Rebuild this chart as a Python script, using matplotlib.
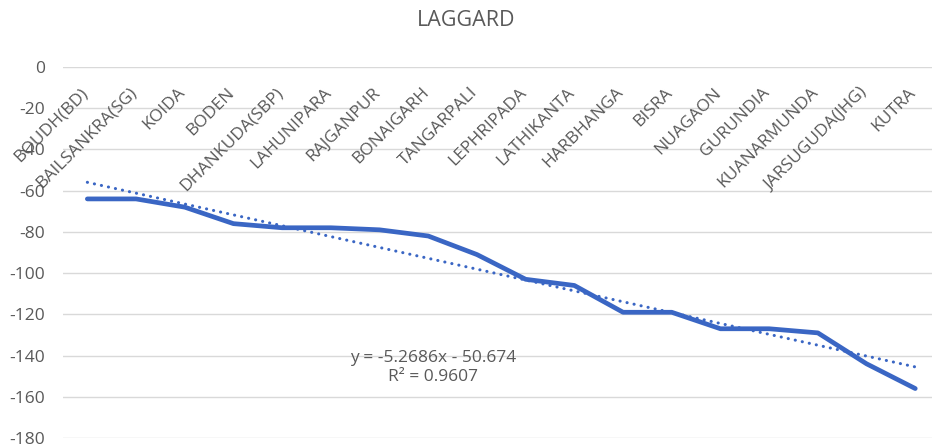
import matplotlib
matplotlib.use("Agg")
import matplotlib.pyplot as plt
import numpy as np

plt.rcParams['font.family'] = ['Open Sans', 'DejaVu Sans']

categories = ["BOUDH(BD)", "BAILSANKRA(SG)", "KOIDA", "BODEN", "DHANKUDA(SBP)",
              "LAHUNIPARA", "RAJGANPUR", "BONAIGARH", "TANGARPALI", "LEPHRIPADA",
              "LATHIKANTA", "HARBHANGA", "BISRA", "NUAGAON", "GURUNDIA",
              "KUANARMUNDA", "JARSUGUDA(JHG)", "KUTRA"]
values = [-64, -64, -68, -76, -78, -78, -79, -82, -91, -103,
          -106, -119, -119, -127, -127, -129, -144, -156]
trend_slope = -5.2686
trend_intercept = -50.674
r_squared = 0.9607
y_ticks = [0, -20, -40, -60, -80, -100, -120, -140, -160, -180]

W, H = 932, 447
fig = plt.figure(figsize=(W / 100, H / 100), dpi=100)
ax = fig.add_axes([63 / W, 1 - 438 / H, 1 - 63 / W, (438 - 67) / H])

blue = "#3a66c4"
grey = "#595959"

x = np.arange(len(categories))
ax.plot(x, values, color=blue, linewidth=3.4, solid_joinstyle='round',
        solid_capstyle='round', zorder=3)

xt = np.arange(1, len(categories) + 1)
ax.plot(x, trend_slope * xt + trend_intercept, color=blue, linewidth=2.2,
        linestyle=(0, (0.05, 2.3)), dash_capstyle='round', zorder=2)

ax.set_ylim(-180, 0)
ax.set_xlim(-0.5, -0.5 + (W - 63) / 48.7)
ax.set_yticks(y_ticks)
ax.set_yticklabels([str(v) for v in y_ticks])
ax.tick_params(axis='y', length=0, pad=13, labelsize=12.5, labelcolor=grey)
ax.set_xticks([])
ax.grid(axis='y', color='#d9d9d9', linewidth=1.0)
ax.set_axisbelow(True)
for s in ax.spines.values():
    s.set_visible(False)

for i, lab in enumerate(categories):
    ax.text(i + 0.08, -8.5, lab, rotation=45, ha='right', va='top',
            fontsize=12.5, color=grey, zorder=4)

ax.text(7.1, -146, f"y = {trend_slope}x - {abs(trend_intercept)}\nR² = {r_squared}",
        ha='center', va='center', multialignment='center', fontsize=12.5,
        color=grey, linespacing=1.25, zorder=4)

fig.text(0.5, 1 - 21 / H, "LAGGARD", ha='center', va='center', fontsize=15.5,
         color=grey)

fig.savefig("out.png", dpi=100, facecolor='white')
